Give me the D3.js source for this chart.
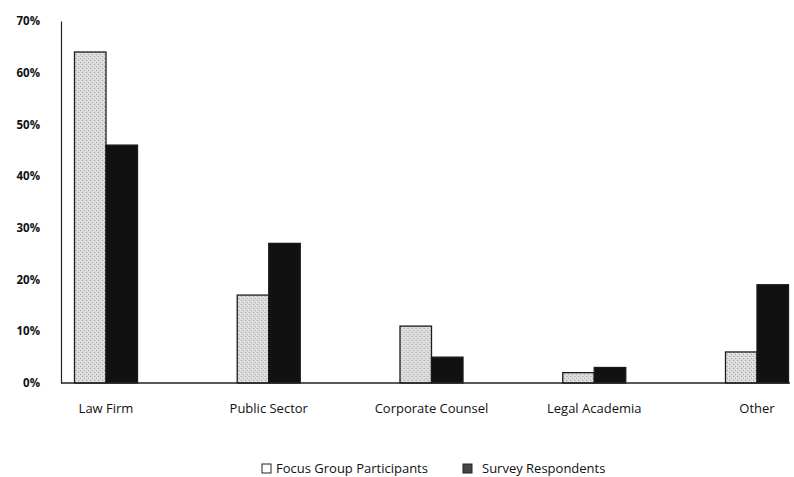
<!DOCTYPE html>
<html>
<head>
<meta charset="utf-8">
<script src="https://cdn.jsdelivr.net/npm/d3@7"></script>
<style>
  html, body { margin: 0; padding: 0; background: #fff; }
  svg { display: block; font-family: "Open Sans", "DejaVu Sans", sans-serif; }
</style>
</head>
<body>
<svg id="chart" width="794" height="477"></svg>
<script>
// Respondent employment sector, share of each group
const categories = ["Law Firm", "Public Sector", "Corporate Counsel", "Legal Academia", "Other"];
const seriesNames = ["Focus Group Participants", "Survey Respondents"];
const focusGroup = [0.64, 0.17, 0.11, 0.02, 0.06];
const surveyRespondents = [0.46, 0.27, 0.05, 0.03, 0.19];
const yTicks = [0, 0.1, 0.2, 0.3, 0.4, 0.5, 0.6, 0.7];

const seriesValues = [focusGroup, surveyRespondents];
const fills = ["#d6d6d6", "#111111"];

const svg = d3.select("#chart");

// stipple texture for the light bars
const defs = svg.append("defs");
const pat = defs.append("pattern")
  .attr("id", "stipple").attr("width", 4).attr("height", 4)
  .attr("patternUnits", "userSpaceOnUse");
pat.append("rect").attr("width", 4).attr("height", 4).attr("fill", "#dcdcdc");
pat.append("rect").attr("x", 0).attr("y", 0).attr("width", 1).attr("height", 1).attr("fill", "#9a9a9a");
pat.append("rect").attr("x", 2).attr("y", 2).attr("width", 1).attr("height", 1).attr("fill", "#a8a8a8");
pat.append("rect").attr("x", 3).attr("y", 1).attr("width", 1).attr("height", 1).attr("fill", "#f4f4f4");

const x = d3.scalePoint().domain(categories).range([106, 757]);
const inner = d3.scaleBand().domain(seriesNames).range([-31.5, 31.5]).paddingInner(0);
const y = d3.scaleLinear().domain([0, 0.7]).range([383, 21]);

// y axis
const yAxis = svg.append("g")
  .attr("transform", "translate(61,0)")
  .call(d3.axisLeft(y).tickValues(yTicks).tickSize(0).tickPadding(21)
    .tickFormat(d3.format(".0%")));
yAxis.select(".domain").attr("stroke", "#222").attr("stroke-width", 1.2);
yAxis.selectAll("text")
  .attr("font-family", "'Open Sans', sans-serif")
  .attr("font-size", 11.5).attr("font-weight", 700).attr("fill", "#111");

// bars
const groups = svg.append("g").selectAll("g")
  .data(categories)
  .join("g")
  .attr("transform", d => `translate(${x(d)},0)`);

seriesNames.forEach((name, si) => {
  groups.append("rect")
    .attr("x", inner(name))
    .attr("width", inner.bandwidth())
    .attr("y", (d, i) => y(seriesValues[si][i]))
    .attr("height", (d, i) => y(0) - y(seriesValues[si][i]))
    .attr("fill", si === 0 ? "url(#stipple)" : fills[1])
    .attr("stroke", "#1a1a1a")
    .attr("stroke-width", 1.3);
});

// baseline
svg.append("line")
  .attr("x1", 61).attr("x2", 790)
  .attr("y1", y(0)).attr("y2", y(0))
  .attr("stroke", "#222").attr("stroke-width", 1.3);

// category labels
svg.append("g").selectAll("text")
  .data(categories)
  .join("text")
  .attr("x", d => x(d))
  .attr("y", 413)
  .attr("text-anchor", "middle")
  .attr("font-size", 13)
  .attr("fill", "#111")
  .text(d => d);

// legend
const legendItems = [
  { name: seriesNames[0], box: 262, tx: 276 },
  { name: seriesNames[1], box: 463, tx: 482 }
];
const legend = svg.append("g");
legendItems.forEach((it, i) => {
  legend.append("rect")
    .attr("x", it.box).attr("y", 464).attr("width", 9).attr("height", 9)
    .attr("fill", i === 0 ? "#fff" : "url(#stipple)")
    .attr("stroke", "#222").attr("stroke-width", 1);
  if (i === 1) {
    legend.append("rect")
      .attr("x", it.box).attr("y", 464).attr("width", 9).attr("height", 9)
      .attr("fill", "#222").attr("opacity", 0.8);
  }
  legend.append("text")
    .attr("x", it.tx).attr("y", 473)
    .attr("font-size", 13).attr("fill", "#111")
    .text(it.name);
});
</script>
</body>
</html>
